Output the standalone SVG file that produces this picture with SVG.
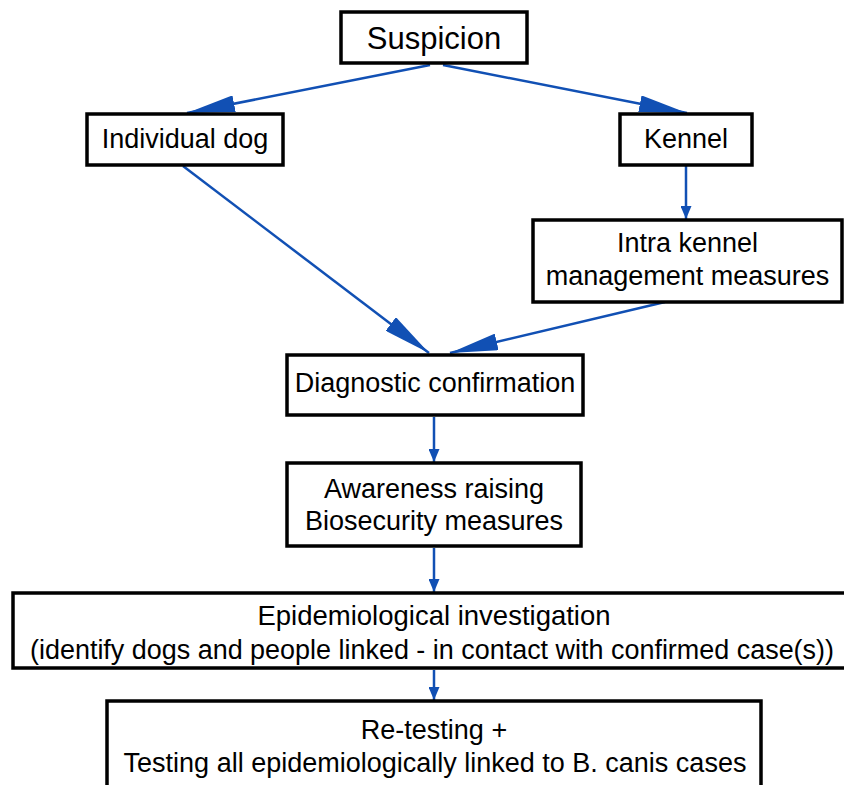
<svg xmlns="http://www.w3.org/2000/svg" width="844" height="785" viewBox="0 0 844 785">
<style>
.box{fill:#fff;stroke:#000;stroke-width:3.5}
.t{font-family:"Liberation Sans",Arial,Helvetica,sans-serif;font-size:27px;fill:#000;text-anchor:middle}
.c{stroke:#1150b4;stroke-width:2.5;fill:none}
</style>
<defs>
<marker id="big" markerUnits="userSpaceOnUse" markerWidth="48" markerHeight="17" refX="48" refY="8.5" orient="auto"><path d="M0,0 L48,8.5 L0,17 Z" fill="#1150b4"/></marker>
<marker id="small" markerUnits="userSpaceOnUse" markerWidth="13" markerHeight="11" refX="13" refY="5.5" orient="auto"><path d="M0,0 L13,5.5 L0,11 Z" fill="#1150b4"/></marker>
</defs>
<rect width="844" height="785" fill="#fff"/>
<g id="connectors">
<line class="c" x1="430" y1="65" x2="187" y2="113" marker-end="url(#big)"/>
<line class="c" x1="443" y1="65" x2="687" y2="113" marker-end="url(#big)"/>
<line class="c" x1="183" y1="166" x2="429" y2="353" marker-end="url(#big)"/>
<line class="c" x1="665" y1="302" x2="450" y2="353" marker-end="url(#big)"/>
<line class="c" x1="686" y1="166" x2="686" y2="219" marker-end="url(#small)"/>
<line class="c" x1="434" y1="417" x2="434" y2="462" marker-end="url(#small)"/>
<line class="c" x1="434" y1="548" x2="434" y2="592" marker-end="url(#small)"/>
<line class="c" x1="434" y1="670" x2="434" y2="700" marker-end="url(#small)"/>
</g>
<g id="suspicion"><rect class="box" x="341" y="12" width="186" height="51"/><text class="t" x="434" y="49" style="font-size:31px">Suspicion</text></g>
<g id="individual"><rect class="box" x="87" y="114" width="196" height="51"/><text class="t" x="185" y="148">Individual dog</text></g>
<g id="kennel"><rect class="box" x="620" y="114" width="132" height="51"/><text class="t" x="686" y="148">Kennel</text></g>
<g id="intra"><rect class="box" x="533" y="220" width="309" height="82"/><text class="t" x="687.5" y="252">Intra kennel</text><text class="t" x="687.5" y="285">management measures</text></g>
<g id="diagnostic"><rect class="box" x="287" y="355" width="296" height="60"/><text class="t" x="435" y="392">Diagnostic confirmation</text></g>
<g id="awareness"><rect class="box" x="287" y="463" width="294" height="83"/><text class="t" x="434" y="498">Awareness raising</text><text class="t" x="434" y="530">Biosecurity measures</text></g>
<g id="epi"><rect class="box" x="13" y="593" width="850" height="75"/><text class="t" x="434" y="625" style="font-size:27.5px">Epidemiological investigation</text><text class="t" x="432" y="659" style="font-size:27px" textLength="804" lengthAdjust="spacingAndGlyphs">(identify dogs and people linked - in contact with confirmed case(s))</text></g>
<g id="retest"><rect class="box" x="107" y="701" width="654" height="110"/><text class="t" x="434" y="739">Re-testing +</text><text class="t" x="435" y="772">Testing all epidemiologically linked to B. canis cases</text></g>
</svg>
